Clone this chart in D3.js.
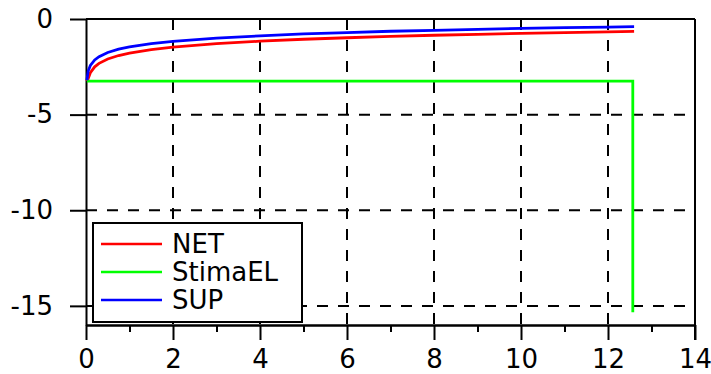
<!DOCTYPE html>
<html>
<head>
<meta charset="utf-8">
<script src="https://cdn.jsdelivr.net/npm/d3@7"></script>
<style>
  html, body { margin: 0; padding: 0; background: #fff; }
  svg { display: block; }
  text { font-family: "DejaVu Sans", sans-serif; }
</style>
</head>
<body>
<svg id="chart" width="711" height="374"></svg>
<script>
// ---- data ----
const seriesNames = ["NET", "StimaEL", "SUP"];
const seriesColors = ["#ff0000", "#00ff00", "#0000ff"];

const curveX   = [0.02, 0.05, 0.1, 0.2, 0.3, 0.5, 0.75, 1, 1.5, 2, 3, 4, 5, 6, 7, 8, 9, 10, 11, 12, 12.6];
const netY     = [-3.25, -3.12, -2.81, -2.50, -2.32, -2.09, -1.91, -1.78, -1.60, -1.47, -1.29, -1.16, -1.06, -0.98, -0.91, -0.85, -0.80, -0.75, -0.71, -0.67, -0.65];
const supY     = [-3.20, -2.72, -2.43, -2.14, -1.97, -1.75, -1.58, -1.46, -1.29, -1.17, -1.00, -0.88, -0.78, -0.71, -0.64, -0.59, -0.54, -0.49, -0.45, -0.42, -0.40];
const stimaX   = [0.02, 12.57, 12.57];
const stimaY   = [-3.25, -3.25, -15.33];

const xMajorTicks = [0, 2, 4, 6, 8, 10, 12, 14];
const xMinorTicks = [1, 3, 5, 7, 9, 11, 13];
const yTicks = [0, -5, -10, -15];
const xDomain = [0, 14];
const yDomain = [-16, 0];

// ---- drawing ----
const svg = d3.select("#chart");
const mLeft = 86, mRight = 695, mTop = 19, mBottom = 325;
const x = d3.scaleLinear().domain(xDomain).range([mLeft, mRight]);
const y = d3.scaleLinear().domain(yDomain).range([mBottom, mTop]);

svg.append("rect").attr("width", 711).attr("height", 374).attr("fill", "#fff");

// grid
const grid = svg.append("g").attr("stroke", "#000").attr("stroke-width", 2).attr("stroke-dasharray", "11,10");
grid.selectAll("line.v").data(xMajorTicks.filter(d => d > 0 && d < 14)).enter().append("line")
  .attr("x1", d => x(d)).attr("x2", d => x(d)).attr("y1", y(0)).attr("y2", y(-16));
grid.selectAll("line.h").data(yTicks.filter(d => d < 0)).enter().append("line")
  .attr("x1", x(0)).attr("x2", x(14)).attr("y1", d => y(d)).attr("y2", d => y(d));

// axes
const fmt = d => String(d);
function styleAxis(g) {
  g.select(".domain").attr("stroke-width", 2);
  g.selectAll(".tick line").attr("stroke-width", 2);
  g.selectAll("text").attr("font-size", 26).attr("fill", "#000").attr("font-family", "DejaVu Sans");
}
svg.append("g").attr("transform", `translate(0,${mBottom})`)
  .call(d3.axisBottom(x).tickValues(xMinorTicks).tickSize(7).tickSizeOuter(0).tickFormat(""))
  .call(styleAxis);
svg.append("g").attr("transform", `translate(0,${mBottom})`)
  .call(d3.axisBottom(x).tickValues(xMajorTicks).tickSize(15).tickSizeOuter(0).tickPadding(10).tickFormat(fmt))
  .call(styleAxis);
svg.append("g").attr("transform", `translate(${mLeft},0)`)
  .call(d3.axisLeft(y).tickValues(yTicks).tickSize(16).tickSizeOuter(0).tickPadding(17).tickFormat(fmt))
  .call(styleAxis);

// frame top/right
svg.append("line").attr("x1", mLeft).attr("x2", mRight).attr("y1", mTop).attr("y2", mTop)
  .attr("stroke", "#000").attr("stroke-width", 2);
svg.append("line").attr("x1", mRight).attr("x2", mRight).attr("y1", mTop).attr("y2", mBottom + 15)
  .attr("stroke", "#000").attr("stroke-width", 2);

// series
const line = d3.line().x(d => x(d[0])).y(d => y(d[1]));
const seriesData = [
  d3.zip(curveX, netY),
  d3.zip(stimaX, stimaY),
  d3.zip(curveX, supY)
];
seriesData.forEach((pts, i) => {
  svg.append("path").datum(pts).attr("d", line)
    .attr("fill", "none").attr("stroke", seriesColors[i]).attr("stroke-width", 2.8)
    .attr("stroke-linejoin", "miter");
});

// legend
const lg = svg.append("g");
lg.append("rect").attr("x", 93).attr("y", 223).attr("width", 209).attr("height", 99)
  .attr("fill", "#fff").attr("stroke", "#000").attr("stroke-width", 2);
seriesNames.forEach((name, i) => {
  const ly = 244 + i * 28;
  lg.append("line").attr("x1", 101).attr("x2", 162).attr("y1", ly).attr("y2", ly)
    .attr("stroke", seriesColors[i]).attr("stroke-width", 2.4);
  lg.append("text").attr("x", 172).attr("y", ly).attr("dy", "0.35em")
    .attr("font-size", 26).attr("fill", "#000").text(name);
});
</script>
</body>
</html>
